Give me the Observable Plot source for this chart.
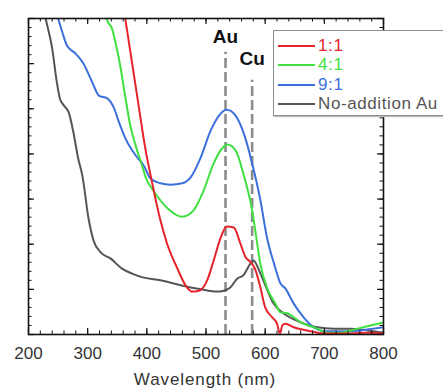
<!DOCTYPE html>
<html>
<head>
<meta charset="utf-8">
<script src="https://cdn.jsdelivr.net/npm/d3@7"></script>
<script src="https://cdn.jsdelivr.net/npm/@observablehq/plot@0.6"></script>
<style>
  html, body { margin: 0; padding: 0; background: white; overflow: hidden; }
  #wrap { position: relative; width: 443px; height: 390px; overflow: hidden; font-family: "Liberation Sans", Arial, sans-serif; }
  #xlabel { position: absolute; left: 105px; top: 371px; width: 200px; text-align: center; font-size: 17px; line-height: 17px; color: #333; letter-spacing: 0.9px; }
  #legend { position: absolute; left: 273px; top: 30px; width: 200px; height: 84px; background: white; border: 1.5px solid #8e8e8e; box-shadow: 1px 1px 1px #bbb; }
  .row { position: absolute; left: 0; height: 20px; width: 200px; }
  .swatch { position: absolute; left: 4px; top: 9px; width: 37px; height: 2px; }
  .lab { position: absolute; left: 44px; top: 0; font-size: 17px; line-height: 20px; white-space: nowrap; letter-spacing: 0.6px; }
</style>
</head>
<body>
<div id="wrap"></div>
<script>
// ---- data ----
const seriesNames = ["1:1", "4:1", "9:1", "No-addition Au"];
const seriesColors = ["#e5232b", "#3fe03f", "#3c6fdc", "#555555"];

const red_nm  = [360, 364, 375, 386, 398, 406, 417, 423, 434, 451, 468, 477, 488, 502, 513, 525, 535, 547, 558, 567, 574, 583, 592, 600, 612, 620, 625, 629, 634, 648, 671, 699, 733, 773, 800];
const red_val = [7.30, 6.96, 6.02, 5.08, 4.08, 3.55, 2.86, 2.53, 2.02, 1.48, 1.04, 0.95, 0.97, 1.20, 1.64, 2.15, 2.39, 2.37, 2.02, 1.71, 1.62, 1.45, 1.04, 0.60, 0.38, 0.24, 0.02, 0.20, 0.24, 0.16, 0.09, 0.02, 0.02, 0.04, 0.02];

const green_nm  = [330, 333, 341, 347, 355, 364, 372, 381, 392, 398, 411, 434, 460, 479, 496, 513, 527, 536, 550, 564, 578, 585, 592, 603, 617, 626, 637, 660, 688, 705, 727, 756, 778, 800];
const green_val = [7.2, 6.96, 6.78, 6.47, 5.96, 5.23, 4.63, 4.19, 3.74, 3.48, 3.19, 2.81, 2.61, 2.75, 3.19, 3.79, 4.12, 4.21, 4.08, 3.52, 2.75, 2.15, 1.55, 1.04, 0.69, 0.49, 0.47, 0.27, 0.13, 0.04, 0.04, 0.13, 0.20, 0.27];

const blue_nm  = [248, 251, 257, 265, 279, 293, 308, 319, 333, 344, 353, 364, 381, 395, 406, 423, 440, 460, 474, 491, 508, 522, 535, 550, 564, 578, 592, 603, 615, 626, 634, 648, 665, 682, 705, 733, 761, 783, 800];
const blue_val = [7.1, 6.96, 6.70, 6.40, 6.23, 6.00, 5.58, 5.29, 5.23, 5.03, 4.70, 4.34, 3.97, 3.74, 3.46, 3.35, 3.32, 3.35, 3.48, 3.92, 4.52, 4.85, 4.98, 4.85, 4.45, 3.79, 2.97, 2.15, 1.57, 1.13, 1.02, 0.69, 0.38, 0.16, 0.07, 0.07, 0.09, 0.13, 0.16];

const black_nm  = [224, 229, 240, 248, 253, 260, 268, 276, 284, 291, 302, 310, 322, 339, 358, 375, 395, 423, 457, 491, 519, 530, 541, 553, 563, 575, 580, 592, 604, 614, 631, 660, 688, 716, 744, 773, 800];
const black_val = [7.3, 7.0, 6.34, 5.58, 5.23, 5.07, 4.92, 4.47, 3.90, 3.52, 2.53, 2.08, 1.82, 1.68, 1.46, 1.35, 1.26, 1.20, 1.09, 1.00, 0.95, 0.97, 1.04, 1.24, 1.31, 1.57, 1.64, 1.35, 0.97, 0.69, 0.47, 0.27, 0.16, 0.13, 0.13, 0.09, 0.04];

const markerNames  = ["Au", "Cu"];
const markerNm     = [533, 578];
const markerTop    = [6.25, 5.63];
const markerLabelY = [6.59, 6.10];

const xTickLabels = [200, 300, 400, 500, 600, 700, 800];
const yMajorTicks = [0, 1, 2, 3, 4, 5, 6, 7];
const xMinorTicks = d3.range(200, 801, 20);
const yMinorTicks = d3.range(0, 7.01, 0.2);

// ---- build tables ----
const toRows = (name, nm, val) => nm.map((x, i) => ({series: name, nm: x, v: val[i]}));
const lines = [
  toRows("No-addition Au", black_nm, black_val),
  toRows("9:1", blue_nm, blue_val),
  toRows("4:1", green_nm, green_val),
  toRows("1:1", red_nm, red_val)
];
const markers = markerNames.map((n, i) => ({label: n, nm: markerNm[i], top: markerTop[i], ly: markerLabelY[i]}));
const colorOf = n => seriesColors[seriesNames.indexOf(n)];

const W = 443, H = 390, mL = 28, mR = 60, mT = 18, mB = 56;
const fw = W - mL - mR, fh = H - mT - mB;

const chart = Plot.plot({
  width: W, height: H,
  marginLeft: mL, marginRight: mR, marginTop: mT, marginBottom: mB,
  style: {fontFamily: "'Liberation Sans', Arial, sans-serif", background: "white", color: "#333"},
  x: {domain: [200, 800], axis: null},
  y: {domain: [0, 7], axis: null},
  marks: [
    Plot.ruleX(markers, {x: "nm", y1: 0, y2: "top", stroke: "#8c8c8c", strokeWidth: 2.6, strokeDasharray: "10,4"}),
    Plot.text(markers, {x: "nm", y: "ly", text: "label", fontSize: 19, fill: "#111", fontWeight: 600}),
    ...lines.map(rows => Plot.line(rows, {x: "nm", y: "v", stroke: colorOf(rows[0].series), strokeWidth: 2, curve: "monotone-x", clip: true})),
    // inward ticks on all four sides
    Plot.tickX(xMinorTicks, {x: d => d, insetTop: fh - 3.5, stroke: "#111"}),
    Plot.tickX(xMinorTicks, {x: d => d, insetBottom: fh - 3.5, stroke: "#111"}),
    Plot.tickX(xTickLabels, {x: d => d, insetTop: fh - 6, stroke: "#111", strokeWidth: 1.2}),
    Plot.tickX(xTickLabels, {x: d => d, insetBottom: fh - 6, stroke: "#111", strokeWidth: 1.2}),
    Plot.tickY(yMinorTicks, {y: d => d, insetRight: fw - 3.5, stroke: "#111"}),
    Plot.tickY(yMinorTicks, {y: d => d, insetLeft: fw - 3.5, stroke: "#111"}),
    Plot.tickY(yMajorTicks, {y: d => d, insetRight: fw - 6, stroke: "#111", strokeWidth: 1.2}),
    Plot.tickY(yMajorTicks, {y: d => d, insetLeft: fw - 6, stroke: "#111", strokeWidth: 1.2}),
    Plot.frame({stroke: "#111", strokeWidth: 1.6}),
    Plot.axisX(xTickLabels, {anchor: "bottom", tickSize: 0, tickPadding: 12, fontSize: 17, fill: "#333", label: null})
  ]
});

const wrap = document.getElementById("wrap");
wrap.appendChild(chart);

const xl = document.createElement("div");
xl.id = "xlabel";
xl.textContent = "Wavelength (nm)";
wrap.appendChild(xl);

const legend = document.createElement("div");
legend.id = "legend";
const rowTops = [4.5, 24, 43.5, 63];
seriesNames.forEach((n, i) => {
  const r = document.createElement("div");
  r.className = "row";
  r.style.top = rowTops[i] + "px";
  const sw = document.createElement("div");
  sw.className = "swatch";
  sw.style.background = seriesColors[i];
  const t = document.createElement("div");
  t.className = "lab";
  t.style.color = seriesColors[i];
  t.textContent = n;
  r.appendChild(sw); r.appendChild(t);
  legend.appendChild(r);
});
wrap.appendChild(legend);
</script>
</body>
</html>
